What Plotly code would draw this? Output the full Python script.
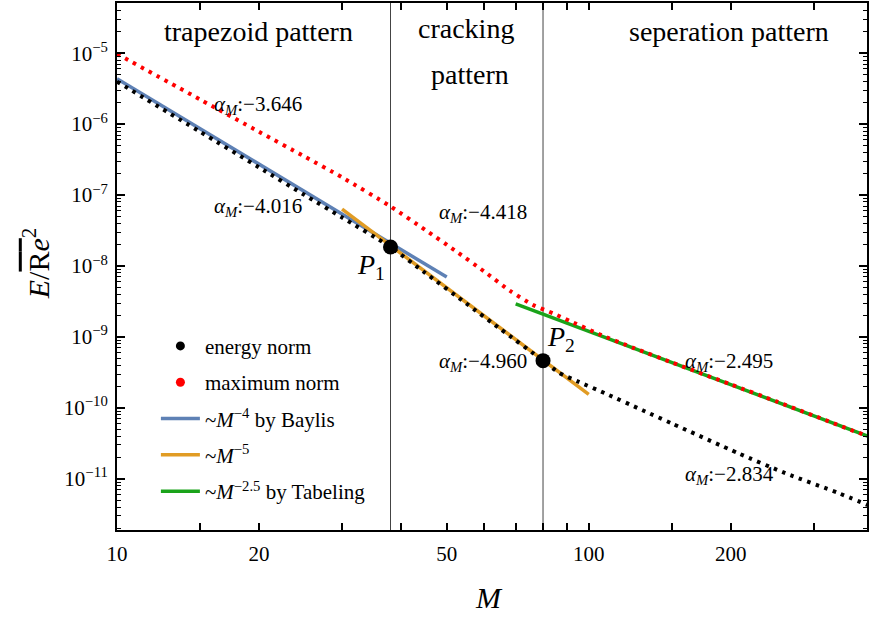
import plotly.graph_objects as go

# ---------------- data ----------------
energy_M = [10, 15, 20, 25, 30, 38, 45, 55, 65, 80, 86.4, 95, 108.6, 130, 150, 207.5, 261, 338, 390]
energy_E = [3.98e-6, 7.82e-7, 2.46e-7, 1.00e-7, 4.83e-8, 1.85e-8, 8.00e-9, 2.96e-9, 1.29e-9,
            4.63e-10, 3.14e-10, 2.34e-10, 1.59e-10, 9.27e-11, 6.03e-11, 2.29e-11, 1.20e-11,
            6.31e-12, 4.27e-12]

max_M = [10, 15, 20, 25, 30, 38, 45, 52, 60, 68, 76, 84, 91, 105, 125, 150, 200, 250, 300, 390]
max_E = [9.77e-6, 2.23e-6, 7.80e-7, 3.48e-7, 1.78e-7, 6.92e-8, 3.24e-8, 1.66e-8, 8.40e-9,
         4.50e-9, 2.85e-9, 2.15e-9, 1.69e-9, 1.10e-9, 6.92e-10, 4.37e-10, 2.14e-10,
         1.23e-10, 7.76e-11, 3.98e-11]

baylis_M = [10, 50]
baylis_E = [4.37e-6, 6.98e-9]
m5_M = [30, 100]
m5_E = [6.32e-8, 1.55e-10]
tabeling_M = [70, 400]
tabeling_E = [2.92e-9, 3.75e-11]

P_M = [38, 80]
P_E = [1.85e-8, 4.63e-10]
P_names = ["P", "P"]

slope_labels = ["−3.646", "−4.016", "−4.418", "−4.960", "−2.495", "−2.834"]
region_labels = ["trapezoid pattern", "cracking", "pattern", "seperation pattern"]

x_tickvals = [10, 20, 50, 100, 200]
x_ticktext = ["10", "20", "50", "100", "200"]
x_minor = [15, 30, 40, 60, 70, 80, 90, 150, 300]
y_exps = [-12, -11, -10, -9, -8, -7, -6, -5, -4]

FONT = "Liberation Serif"
BLUE = "#5E81B5"
ORANGE = "#E19C24"
GREEN = "#1AA31A"

# ---------------- figure ----------------
W, H = 870, 617
ML, MR, MT, MB = 117, 1, 1, 87
pw, ph = W - ML - MR, H - MT - MB


def px(xp):
    return (xp - ML) / pw


def py(yp):
    return (H - MB - yp) / ph


fig = go.Figure()

# vertical separators at P1, P2
for m in P_M:
    fig.add_trace(go.Scatter(x=[m, m], y=[1e-14, 1e-2], mode="lines",
                             line=dict(color="#444444", width=1), showlegend=False,
                             hoverinfo="skip"))

# fit lines
fig.add_trace(go.Scatter(x=baylis_M, y=baylis_E, mode="lines",
                         line=dict(color=BLUE, width=3.5), showlegend=False))
fig.add_trace(go.Scatter(x=m5_M, y=m5_E, mode="lines",
                         line=dict(color=ORANGE, width=3.5), showlegend=False))
fig.add_trace(go.Scatter(x=tabeling_M, y=tabeling_E, mode="lines",
                         line=dict(color=GREEN, width=3.5), showlegend=False))

# dotted data curves
fig.add_trace(go.Scatter(x=energy_M, y=energy_E, mode="lines",
                         line=dict(color="black", width=4, dash="3.5px,5.5px", shape="spline",
                                   smoothing=0.6),
                         showlegend=False))
fig.add_trace(go.Scatter(x=max_M, y=max_E, mode="lines",
                         line=dict(color="red", width=4, dash="3.5px,5.5px", shape="spline",
                                   smoothing=0.6),
                         showlegend=False))

# P points
fig.add_trace(go.Scatter(x=P_M, y=P_E, mode="markers",
                         marker=dict(color="black", size=15), showlegend=False))

# legend entries
leg = [
    ("energy norm", dict(mode="markers", marker=dict(color="black", size=9))),
    ("maximum norm", dict(mode="markers", marker=dict(color="red", size=9))),
    ("~<i>M</i><sup>−4</sup> by Baylis", dict(mode="lines", line=dict(color=BLUE, width=3.5))),
    ("~<i>M</i><sup>−5</sup>", dict(mode="lines", line=dict(color=ORANGE, width=3.5))),
    ("~<i>M</i><sup>−2.5</sup> by Tabeling", dict(mode="lines", line=dict(color=GREEN, width=3.5))),
]
for i, (name, kw) in enumerate(leg):
    fig.add_trace(go.Scatter(x=[None], y=[None], name=name, legendgroup=f"g{i}", **kw))

annotations = []


def ann(xp, yp, text, size, **kw):
    annotations.append(dict(x=px(xp), y=py(yp), xref="paper", yref="paper",
                            xanchor="center", yanchor="middle",
                            text=text, showarrow=False,
                            font=dict(family=FONT, size=size, color="black"), **kw))


def alpha(t):
    return "<i>α</i><sub><i>M</i></sub>:" + t


slope_pos = [(258, 103), (258, 206), (484, 212), (484, 361), (731, 361), (731, 475)]
for t, (xp, yp) in zip(slope_labels, slope_pos):
    ann(xp, yp, alpha(t), 21)

p_pos = [(372, 266), (562, 338)]
for k, (xp, yp) in enumerate(p_pos):
    ann(xp, yp, f"<i>{P_names[k]}</i><sub>{k+1}</sub>", 28)

reg_pos = [(259, 30), (467, 27), (471, 73), (731, 30)]
for t, (xp, yp) in zip(region_labels, reg_pos):
    ann(xp, yp, t, 28)

# axis titles
ann(490, 598, "<i>M</i>", 30)
ann(36, 262, "<i>E</i>/<span style='text-decoration:overline'>R<i>e</i></span><sup>2</sup>",
    30, textangle=-90)

y_tickvals = [10.0 ** e for e in y_exps]
y_ticktext = [f"10<sup>−{-e}</sup>" for e in y_exps]
y_minor = [d * 10.0 ** e for e in y_exps for d in range(2, 10)]

fig.update_layout(
    width=W, height=H,
    margin=dict(l=ML, r=MR, t=MT, b=MB),
    paper_bgcolor="white", plot_bgcolor="white",
    font=dict(family=FONT, size=21, color="black"),
    showlegend=True,
    legend=dict(x=px(156), y=py(325), xanchor="left", yanchor="top",
                bgcolor="rgba(0,0,0,0)", font=dict(family=FONT, size=21),
                tracegroupgap=6, itemwidth=39),
    annotations=annotations,
    xaxis=dict(type="log", range=[1, 1 + pw / 473.0], showgrid=False, zeroline=False,
               showline=True, linecolor="black", linewidth=2, mirror="ticks",
               ticks="inside", ticklen=7, tickwidth=1.5, tickcolor="black",
               tickvals=x_tickvals, ticktext=x_ticktext,
               tickfont=dict(family=FONT, size=21), ticklabelstandoff=4,
               minor=dict(tickvals=x_minor, ticks="inside", ticklen=7, tickwidth=1.5,
                          tickcolor="black", showgrid=False)),
    yaxis=dict(type="log", range=[-8 - (H - MB - 265) / 71.2, -8 + (265 - MT) / 71.2],
               showgrid=False, zeroline=False,
               showline=True, linecolor="black", linewidth=2, mirror="ticks",
               ticks="inside", ticklen=8, tickwidth=1.5, tickcolor="black",
               tickvals=y_tickvals, ticktext=y_ticktext,
               tickfont=dict(family=FONT, size=21), ticklabelstandoff=3,
               minor=dict(tickvals=y_minor, ticks="inside", ticklen=4, tickwidth=1,
                          tickcolor="black", showgrid=False)),
)

fig.write_html("out.html")
